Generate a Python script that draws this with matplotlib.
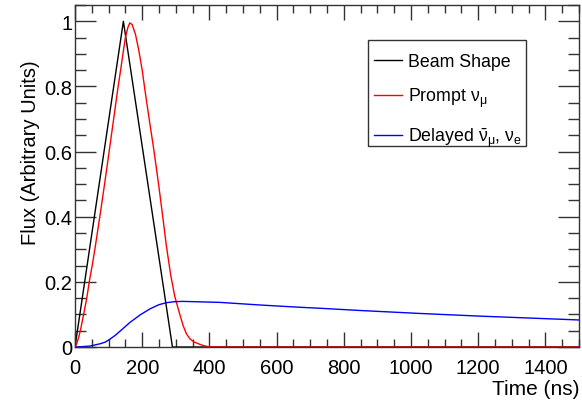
import matplotlib
matplotlib.use("Agg")
import matplotlib.pyplot as plt
from matplotlib.patches import Rectangle
from matplotlib.ticker import MultipleLocator

plt.rcParams["font.family"] = ["Liberation Sans", "DejaVu Sans"]
plt.rcParams["mathtext.fontset"] = "custom"
plt.rcParams["mathtext.rm"] = "Liberation Sans"
plt.rcParams["mathtext.it"] = "Liberation Sans"
plt.rcParams["mathtext.bf"] = "Liberation Sans:bold"

# values (time in ns, flux normalised)
beam_t = [0, 144, 290, 1500]
beam_flux = [0, 1.0, 0, 0]

prompt_t = [0, 5, 11, 18, 26, 35, 43, 52, 60, 75, 88, 102, 115, 127, 135,
            142, 150, 157, 163, 170, 180, 190, 200, 208, 220, 235, 250, 262,
            272, 285, 297, 310, 322, 332, 342, 355, 367, 380, 396, 420, 1500]
prompt_flux = [0, 0.01, 0.03, 0.06, 0.102, 0.15, 0.204, 0.255, 0.306, 0.408,
               0.50, 0.603, 0.70, 0.79, 0.845, 0.895, 0.95, 0.98, 0.995,
               0.99, 0.96, 0.91, 0.85, 0.79, 0.705, 0.603, 0.49, 0.393, 0.31,
               0.22, 0.155, 0.107, 0.065, 0.04, 0.025, 0.015, 0.01, 0.005,
               0.001, 0, 0]

delayed_t = [0, 20, 45, 75, 90, 104, 120, 140, 163, 193, 223, 250, 272, 295,
             320, 360, 431, 550, 669, 728, 850, 1026, 1200, 1350, 1500]
delayed_flux = [0, 0.001, 0.003, 0.01, 0.015, 0.024, 0.036, 0.054, 0.075,
                0.098, 0.117, 0.130, 0.136, 0.139, 0.140, 0.139, 0.137,
                0.129, 0.122, 0.119, 0.112, 0.103, 0.095, 0.089, 0.083]

labels = ["Beam Shape", r"Prompt $\nu_{\mu}$",
          r"Delayed $\bar{\nu}_{\mu}$, $\nu_{e}$"]
colors = ["black", "red", "blue"]


def y_fmt(v, pos):
    if abs(v) < 1e-9:
        return "0"
    if abs(v - 1) < 1e-9:
        return "1"
    return "%.1f" % v


fig = plt.figure(figsize=(5.82, 4.02), dpi=100)
ax = fig.add_axes([75 / 582, 1 - 348 / 402, 504 / 582, 342 / 402])

ax.plot(beam_t, beam_flux, color=colors[0], lw=1.0, label=labels[0])
ax.plot(prompt_t, prompt_flux, color=colors[1], lw=1.0, label=labels[1])
ax.plot(delayed_t, delayed_flux, color=colors[2], lw=1.0, label=labels[2])

ax.set_xlim(0, 1500)
ax.set_ylim(0, 1.05)

ax.xaxis.set_major_locator(MultipleLocator(200))
ax.xaxis.set_minor_locator(MultipleLocator(50))
ax.yaxis.set_major_locator(MultipleLocator(0.2))
ax.yaxis.set_minor_locator(MultipleLocator(0.05))
ax.yaxis.set_major_formatter(plt.FuncFormatter(y_fmt))

ax.tick_params(which="both", direction="in", top=True, right=True,
               labelsize=14.5, width=1.0, color="#333333")
ax.tick_params(which="major", axis="y", length=15, pad=2)
ax.tick_params(which="minor", axis="y", length=8)
ax.tick_params(which="major", axis="x", length=11, pad=8)
ax.tick_params(which="minor", axis="x", length=6)
for s in ax.spines.values():
    s.set_linewidth(1.0)
    s.set_color("#333333")

ax.set_xlabel("Time (ns)", fontsize=15, ha="right")
ax.xaxis.set_label_coords(1.0, -0.094)
ax.set_ylabel("Flux (Arbitrary Units)", fontsize=14.5)
ax.yaxis.set_label_coords(-0.07, 0.57)

# legend box drawn separately so the padding matches the reference
frame = Rectangle((368 / 582, 1 - 147 / 402), 158 / 582, 106 / 402,
                  transform=fig.transFigure, facecolor="white",
                  edgecolor="#333333", lw=1.0, zorder=4.5, clip_on=False)
ax.add_patch(frame)
leg = ax.legend(loc="upper left", bbox_to_anchor=(374 / 582, 1 - 54 / 402),
                bbox_transform=fig.transFigure, borderaxespad=0,
                fontsize=12.8, handlelength=1.55, handletextpad=0.38,
                labelspacing=0.9, borderpad=0, frameon=False)
leg.set_zorder(5)

fig.savefig("out.png", dpi=100)
